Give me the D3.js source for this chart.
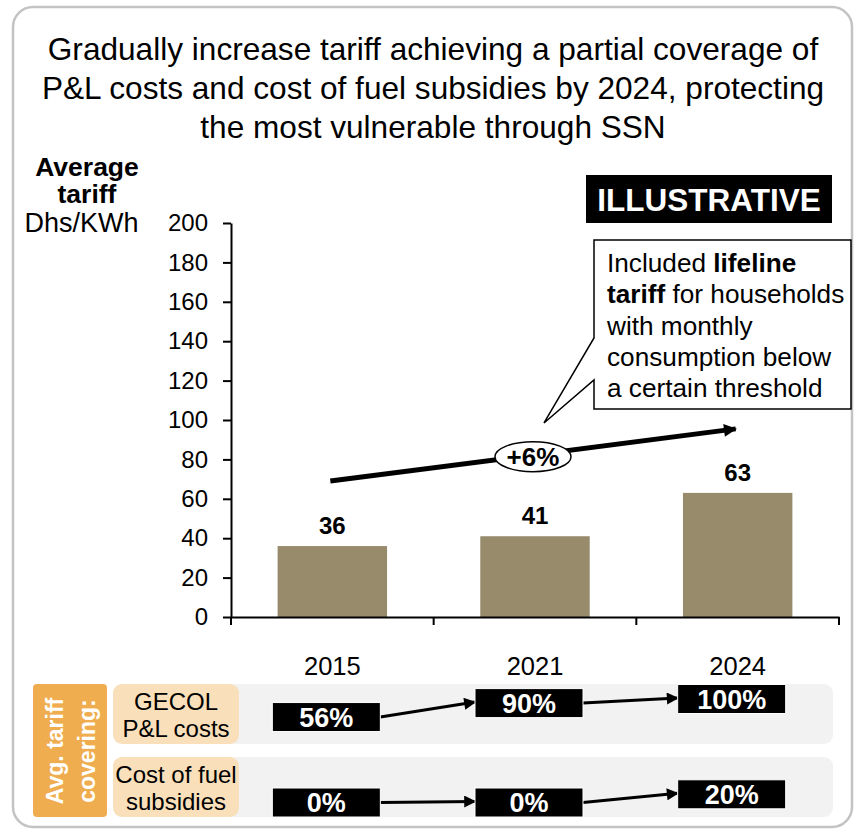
<!DOCTYPE html>
<html>
<head>
<meta charset="utf-8">
<script src="https://cdn.jsdelivr.net/npm/d3@7"></script>
<style>
body { margin: 0; background: #fff; }
svg text { font-family: Arial, "Liberation Sans", sans-serif; }
</style>
</head>
<body>
<svg width="854" height="834"></svg>
<script>
var titleLines = ["Gradually increase tariff achieving a partial coverage of",
    "P&L costs and cost of fuel subsidies by 2024, protecting",
    "the most vulnerable through SSN"];
var years = ["2015", "2021", "2024"];
var tariff = [36, 41, 63];
var yTicks = [0, 20, 40, 60, 80, 100, 120, 140, 160, 180, 200];
var trendValues = [69, 95.5];
var trendLabel = "+6%";
var calloutLines = [
    [["Included ", false], ["lifeline", true]],
    [["tariff", true], [" for households", false]],
    [["with monthly", false]],
    [["consumption below", false]],
    [["a certain threshold", false]]
];
var rowLabels = [["GECOL", "P&L costs"], ["Cost of fuel", "subsidies"]];
var gecolCover = [56, 90, 100];
var fuelCover = [0, 0, 20];
var sideLabel = ["Avg. tariff", "covering:"];

var svg = d3.select("svg"),
    width = +svg.attr("width"),
    height = +svg.attr("height");

var barColor = "#978b6c";

svg.append("defs").append("marker")
    .attr("id", "head")
    .attr("viewBox", "0 0 10 10")
    .attr("refX", 9).attr("refY", 5)
    .attr("markerUnits", "userSpaceOnUse")
    .attr("markerWidth", 14).attr("markerHeight", 12)
    .attr("orient", "auto")
    .append("path").attr("d", "M0,0 L10,5 L0,10 Z").attr("fill", "#000");

svg.select("defs").append("marker")
    .attr("id", "head2")
    .attr("viewBox", "0 0 10 10")
    .attr("refX", 9).attr("refY", 5)
    .attr("markerUnits", "userSpaceOnUse")
    .attr("markerWidth", 16).attr("markerHeight", 13)
    .attr("orient", "auto")
    .append("path").attr("d", "M0,0 L10,5 L0,10 Z").attr("fill", "#000");

svg.append("rect")
    .attr("x", 13).attr("y", 7)
    .attr("width", 839).attr("height", 820)
    .attr("rx", 20)
    .attr("fill", "#fff")
    .attr("stroke", "#c3c3c3")
    .attr("stroke-width", 2.5);

svg.append("g").selectAll("text")
    .data(titleLines)
    .enter().append("text")
    .attr("x", 433)
    .attr("y", function(d, i) { return 60 + i * 39; })
    .attr("text-anchor", "middle")
    .attr("font-size", 31.6)
    .text(function(d) { return d; });

// y axis title
svg.append("text").attr("x", 87).attr("y", 176).attr("text-anchor", "middle")
    .attr("font-size", 26.5).attr("font-weight", "bold").text("Average");
svg.append("text").attr("x", 87).attr("y", 203).attr("text-anchor", "middle")
    .attr("font-size", 26.5).attr("font-weight", "bold").text("tariff");
svg.append("text").attr("x", 81.5).attr("y", 232).attr("text-anchor", "middle")
    .attr("font-size", 27).text("Dhs/KWh");

var x = d3.scaleBand().domain(years).range([231, 839]).padding(0);
var y = d3.scaleLinear().domain([0, 200]).range([617, 223]);
var barW = x.bandwidth() * 0.54;

var yAxis = svg.append("g")
    .attr("transform", "translate(231,0)")
    .call(d3.axisLeft(y).tickValues(yTicks).tickSize(8).tickSizeOuter(0).tickPadding(15));
yAxis.select(".domain").attr("stroke-width", 2);
yAxis.selectAll(".tick line").attr("stroke-width", 2);
yAxis.selectAll(".tick text").attr("font-size", 24).attr("font-family", null).attr("fill", "#000");

svg.append("g").selectAll("rect")
    .data(tariff)
    .enter().append("rect")
    .attr("x", function(d, i) { return x(years[i]) + (x.bandwidth() - barW) / 2; })
    .attr("y", function(d) { return y(d); })
    .attr("width", barW)
    .attr("height", function(d) { return y(0) - y(d); })
    .attr("fill", barColor);

svg.append("g").selectAll("text")
    .data(tariff)
    .enter().append("text")
    .attr("x", function(d, i) { return x(years[i]) + x.bandwidth() / 2; })
    .attr("y", function(d) { return y(d) - 12; })
    .attr("text-anchor", "middle")
    .attr("font-size", 24)
    .attr("font-weight", "bold")
    .text(function(d) { return d; });

var xAxis = svg.append("g")
    .attr("transform", "translate(0," + y(0) + ")")
    .call(d3.axisBottom(x).tickSize(0).tickSizeOuter(0).tickPadding(40));
xAxis.select(".domain").attr("stroke-width", 2);
xAxis.selectAll(".tick text").attr("font-size", 25.5).attr("font-family", null).attr("fill", "#000");

var edges = years.map(function(d) { return x(d); }).concat([x.range()[1]]);
xAxis.selectAll("line.edge")
    .data(edges)
    .enter().append("line")
    .attr("class", "edge")
    .attr("x1", function(d) { return d; })
    .attr("x2", function(d) { return d; })
    .attr("y1", 0).attr("y2", 8)
    .attr("stroke", "#000")
    .attr("stroke-width", 2);

// illustrative tag
svg.append("rect").attr("x", 586).attr("y", 175).attr("width", 246).attr("height", 48).attr("fill", "#000");
svg.append("text").attr("x", 709).attr("y", 211).attr("text-anchor", "middle")
    .attr("font-size", 31.5).attr("font-weight", "bold").attr("fill", "#fff").text("ILLUSTRATIVE");

// trend arrow
var mid = x(years[1]) + x.bandwidth() / 2;
var tx0 = x(years[0]) + x.bandwidth() / 2 - 2,
    tx1 = x(years[2]) + x.bandwidth() / 2 - 2;
svg.append("line")
    .attr("x1", tx0).attr("y1", y(trendValues[0]))
    .attr("x2", tx1).attr("y2", y(trendValues[1]))
    .attr("stroke", "#000")
    .attr("stroke-width", 5)
    .attr("marker-end", "url(#head2)");

// callout
var tipY = y(98.5), tipX = mid + 9;
svg.append("path")
    .attr("d", "M594,240 H851 V409 H594 V380 L" + tipX + "," + tipY + " L594,338 Z")
    .attr("fill", "#fff")
    .attr("stroke", "#000")
    .attr("stroke-width", 1.5);

var ct = svg.append("text").attr("font-size", 26.2);
calloutLines.forEach(function(line, i) {
    line.forEach(function(part, j) {
        var t = ct.append("tspan").text(part[0]).attr("font-weight", part[1] ? "bold" : null);
        if (j == 0) t.attr("x", 607).attr("y", 272 + i * 31.3);
    });
});

var ey = y(trendValues[0]) + (y(trendValues[1]) - y(trendValues[0])) * (mid - tx0) / (tx1 - tx0);
svg.append("ellipse")
    .attr("cx", mid - 2).attr("cy", ey + 2)
    .attr("rx", 38).attr("ry", 15)
    .attr("fill", "#fff")
    .attr("stroke", "#000")
    .attr("stroke-width", 1.5);
svg.append("text").attr("x", mid - 2).attr("y", ey + 11.5).attr("text-anchor", "middle")
    .attr("font-size", 26).attr("font-weight", "bold").text(trendLabel);

// coverage panel
var rowTop = [684, 757], rowH = 60, rowBase = [56, 45.5];
var pct = d3.scaleLinear().domain([0, 100]).range([0, -41]);

svg.append("rect").attr("x", 33).attr("y", 684).attr("width", 74).attr("height", 133)
    .attr("rx", 4).attr("fill", "#efad4f");
svg.append("g").selectAll("text")
    .data(sideLabel)
    .enter().append("text")
    .attr("transform", function(d, i) { return "translate(" + (63 + i * 32) + ",751) rotate(-90)"; })
    .attr("text-anchor", "middle")
    .attr("font-size", 23)
    .attr("font-weight", "bold")
    .attr("fill", "#fff")
    .text(function(d) { return d; });

var rows = svg.append("g").selectAll("g")
    .data([gecolCover, fuelCover])
    .enter().append("g");

rows.append("rect")
    .attr("x", 225).attr("y", function(d, i) { return rowTop[i]; })
    .attr("width", 608).attr("height", rowH)
    .attr("rx", 9).attr("fill", "#f2f2f2");
rows.append("rect")
    .attr("x", 113).attr("y", function(d, i) { return rowTop[i]; })
    .attr("width", 126).attr("height", rowH)
    .attr("rx", 9).attr("fill", "#f9dfba");
rows.each(function(d, i) {
    var g = d3.select(this);
    g.selectAll("text.lab")
        .data(rowLabels[i])
        .enter().append("text")
        .attr("class", "lab")
        .attr("x", 176)
        .attr("y", function(s, k) { return rowTop[i] + 26 + k * 27; })
        .attr("text-anchor", "middle")
        .attr("font-size", 24)
        .text(function(s) { return s; });

    var pts = d.map(function(v, k) {
        return { v: v, cx: x(years[k]) + x.bandwidth() / 2 - 6, cy: rowTop[i] + rowBase[i] + pct(v) };
    });
    var bw = 108, bh = 29;

    g.selectAll("line.link")
        .data(pts.slice(1))
        .enter().append("line")
        .attr("class", "link")
        .attr("x1", function(p, k) { return pts[k].cx + bw / 2; })
        .attr("y1", function(p, k) { return pts[k].cy; })
        .attr("x2", function(p) { return p.cx - bw / 2; })
        .attr("y2", function(p) { return p.cy - 1; })
        .attr("stroke", "#000")
        .attr("stroke-width", 3)
        .attr("marker-end", "url(#head)");

    g.selectAll("rect.box")
        .data(pts)
        .enter().append("rect")
        .attr("class", "box")
        .attr("x", function(p) { return p.cx - bw / 2; })
        .attr("y", function(p) { return Math.min(p.cy - bh / 2, rowTop[i] + rowH - bh); })
        .attr("width", bw).attr("height", function(p) { return Math.min(bh, rowTop[i] + rowH - (p.cy - bh / 2)); })
        .attr("fill", "#000")
        .attr("stroke", "#fff")
        .attr("stroke-width", 1);

    g.selectAll("text.val")
        .data(pts)
        .enter().append("text")
        .attr("class", "val")
        .attr("x", function(p) { return p.cx; })
        .attr("y", function(p) { return p.cy + 9.5; })
        .attr("text-anchor", "middle")
        .attr("font-size", 27)
        .attr("font-weight", "bold")
        .attr("fill", "#fff")
        .text(function(p) { return p.v + "%"; });
});
</script>
</body>
</html>
